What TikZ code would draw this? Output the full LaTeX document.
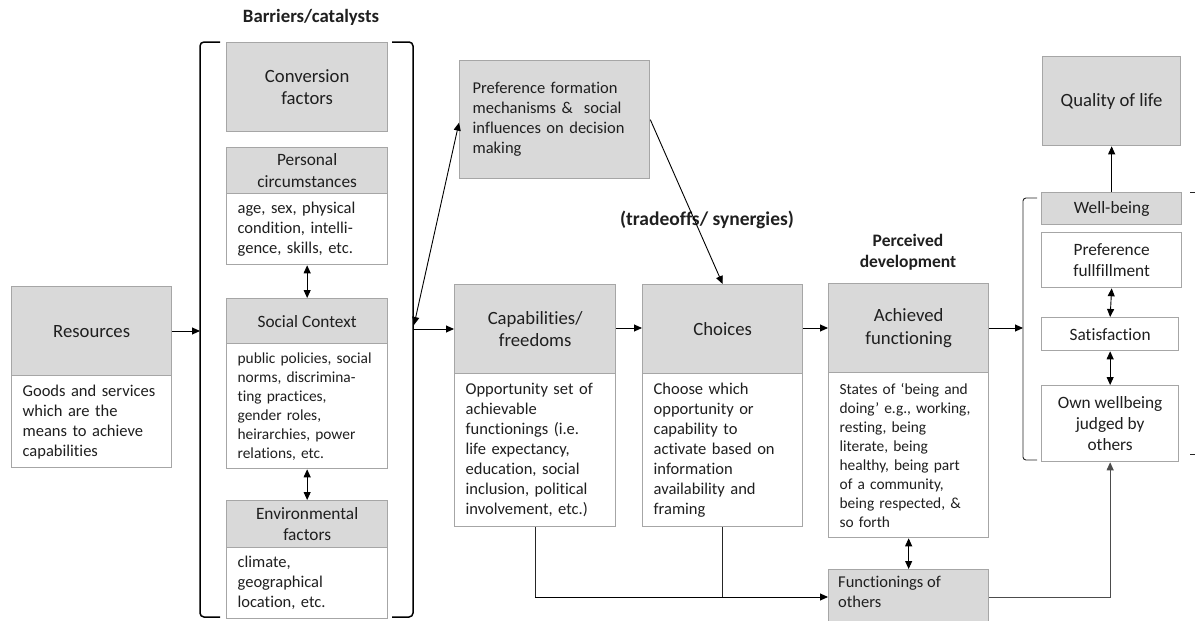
\documentclass[tikz,border=0pt]{standalone}
\usepackage{fontspec}
\setmainfont[Ligatures=NoCommon]{Carlito}
\usetikzlibrary{arrows.meta}
\definecolor{hdrgray}{HTML}{D9D9D9}
\definecolor{edgegray}{HTML}{A6A6A6}
\definecolor{txt}{HTML}{1F1F1F}
\tikzset{
  box/.style={draw=edgegray, line width=1.3pt, anchor=north west, inner sep=0pt, text=txt},
  hdr/.style={box, fill=hdrgray, align=center},
  plain/.style={box, fill=white, align=center},
  body/.style={box, fill=white, inner xsep=11pt, align=left},
  bigfont/.style={font=\fontsize{18.7}{22.7}\selectfont},
  midfont/.style={font=\fontsize{17.3}{21.3}\selectfont},
  smallfont/.style={font=\fontsize{16.5}{20}\selectfont},
  tinyfont/.style={font=\fontsize{15.4}{19}\selectfont},
  boldlabel/.style={font=\bfseries\fontsize{18.8}{21.5}\selectfont, text=txt, align=center},
  link/.style={line width=0.9pt, draw=black, -{Triangle[length=8pt,width=7pt]}},
  dlink/.style={line width=0.9pt, draw=black, {Triangle[length=8pt,width=7pt]}-{Triangle[length=8pt,width=7pt]}},
  plainline/.style={line width=0.9pt, draw=black!85},
  bracket/.style={line width=1.5pt, draw=black, rounded corners=4pt},
  thinbracket/.style={line width=0.9pt, draw=black!85, rounded corners=3pt},
}
\begin{document}
\begin{tikzpicture}[x=1pt, y=-1pt]
\useasboundingbox (0,0) rectangle (1195,621);

% group labels
\node[boldlabel] (lblbarriers) at (311,17) {Barriers/catalysts};
\node[boldlabel, font=\bfseries\fontsize{19.5}{22}\selectfont] (lbltrade) at (707,220) {(tradeoffs/ synergies)};
\node[boldlabel, font=\bfseries\fontsize{17.5}{21}\selectfont] (lblperceived) at (908,252) {Perceived\\development};

% resources
\node[hdr, bigfont, minimum width=160, minimum height=89] (resH) at (11,286) {Resources};
\node[body, smallfont, text width=138pt, minimum height=92] (resB) at (11,375) {Goods and services\\which are the\\means to achieve\\capabilities};

% conversion factors column
\node[hdr, bigfont, minimum width=161, minimum height=89] (conv) at (226,42) {Conversion\\factors};
\node[hdr, midfont, minimum width=161, minimum height=46] (persH) at (226,147) {Personal\\circumstances};
\node[body, smallfont, text width=139pt, minimum height=71] (persB) at (226,193) {age, sex, physical\\condition, intelli-\\gence, skills, etc.};
\node[hdr, midfont, minimum width=161, minimum height=45] (socH) at (226,298) {Social Context};
\node[body, tinyfont, text width=139pt, minimum height=125] (socB) at (226,343) {public policies, social\\norms, discrimina-\\ting practices,\\gender roles,\\heirarchies, power\\relations, etc.};
\node[hdr, midfont, minimum width=161, minimum height=47] (envH) at (226,500) {Environmental\\factors};
\node[body, smallfont, text width=139pt, minimum height=71] (envB) at (226,547) {climate,\\geographical\\location, etc.};

% bracket around the conversion factors
\draw[bracket] (220,42) -- (200,42) -- (200,617) -- (220,617);
\draw[bracket] (392,42) -- (413,42) -- (413,617) -- (392,617);
\coordinate (brkL) at (200,331);
\coordinate (brkR) at (413,329);
\coordinate (brkUp) at (414,325);

% preference formation
\node[hdr, smallfont, align=left, inner xsep=13pt, text width=164pt, minimum height=118] (pref) at (459,60) {Preference formation\\mechanisms \&\ \ social\\influences on decision\\making};

% capabilities and choices
\node[hdr, bigfont, minimum width=161, minimum height=89] (capH) at (454,284) {Capabilities/\\freedoms};
\node[body, smallfont, text width=139pt, minimum height=153] (capB) at (454,373) {Opportunity set of\\achievable\\functionings (i.e.\\life expectancy,\\education, social\\inclusion, political\\involvement, etc.)};
\node[hdr, bigfont, minimum width=160, minimum height=89] (choH) at (642,284) {Choices};
\node[body, smallfont, text width=138pt, minimum height=153] (choB) at (642,373) {Choose which\\opportunity or\\capability to\\activate based on\\information\\availability and\\framing};

% achieved functioning
\node[hdr, bigfont, minimum width=160, minimum height=89] (achH) at (828,283) {Achieved\\functioning};
\node[body, tinyfont, text width=138pt, minimum height=165] (achB) at (828,372) {States of ‘being and\\doing’ e.g., working,\\resting, being\\literate, being\\healthy, being part\\of a community,\\being respected, \&\\so forth};

% functionings of others
\node[hdr, minimum width=160, minimum height=63] (fo) at (828,569) {};
\node[anchor=north west, inner sep=0pt, smallfont, align=left, text=txt] (fotext) at (838,576) {Functionings of\\others};

% quality of life and well-being
\node[hdr, bigfont, minimum width=138, minimum height=89] (qol) at (1042,56) {Quality of life};
\node[hdr, midfont, minimum width=140, minimum height=32] (wb) at (1041,192) {Well-being};
\node[plain, midfont, minimum width=140, minimum height=55] (pfull) at (1041,232) {Preference\\fullfillment};
\node[plain, midfont, minimum width=137, minimum height=33] (sat) at (1041,317) {Satisfaction};
\node[plain, midfont, minimum width=137, minimum height=76] (own) at (1041,385) {Own wellbeing\\judged by\\others};

% bracket around well-being
\draw[thinbracket] (1037,198) -- (1023,198) -- (1023,460) -- (1037,460);
\draw[thinbracket] (1190,192) -- (1195,192);
\draw[thinbracket] (1190,454) -- (1195,454);
\coordinate (wbL) at (1023,328);

% connectors
\draw[dlink] (persB.south) -- (socH.north);
\draw[dlink] (socB.south) -- (envH.north);
\draw[link] (resH.east |- brkL) -- (brkL);
\draw[link] (brkR) -- (capH.west |- brkR);
\draw[dlink] (brkUp) -- ([yshift=-3pt]pref.west);
\draw[link] (pref.east) -- (choH.north);
\draw[link] (capH.east |- 0,328) -- (choH.west |- 0,328);
\draw[link] (choH.east |- 0,328) -- (achH.west |- 0,328);
\draw[link] (achH.east |- wbL) -- (wbL);
\draw[link] (wb.north) -- (qol.south);
\draw[dlink] (pfull.south) -- (sat.north);
\draw[dlink] (sat.south) -- (own.north);
\draw[dlink] (achB.south) -- (fo.north);
\coordinate (join) at (capB.south |- 0,597);
\draw[plainline] (capB.south) -- (join);
\draw[plainline] (choB.south) -- (choB.south |- join);
\draw[link] (join) -- (fo.west |- join);
\draw[line width=0.9pt, draw=black!70, -{Triangle[length=8pt,width=7pt]}] (fo.east |- join) -| (own.south);
\end{tikzpicture}
\end{document}
